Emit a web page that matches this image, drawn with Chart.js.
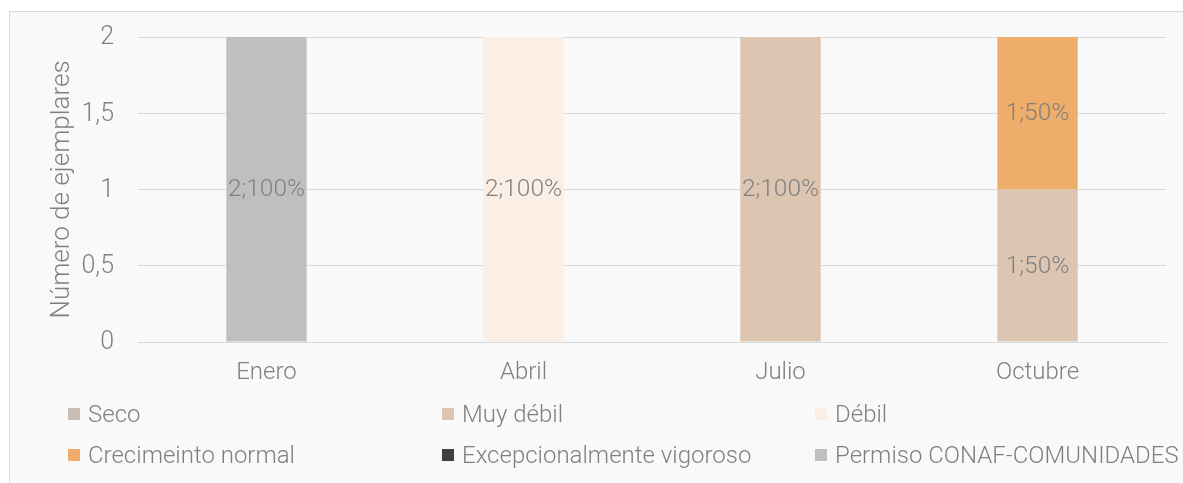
<!DOCTYPE html>
<html>
<head>
<meta charset="utf-8">
<script src="https://cdn.jsdelivr.net/npm/chart.js@4/dist/chart.umd.min.js"></script>
<style>
  html, body { margin: 0; padding: 0; background: #ffffff; width: 1183px; height: 483px; overflow: hidden; }
  #wrap { position: absolute; left: 9px; top: 11px; width: 1174px; height: 472px; background: #f9f9f9; border-top: 1px solid #d9d9d9; border-left: 1px solid #d9d9d9; box-sizing: border-box; }
  #cv { position: absolute; left: 0; top: 0; }
  #legend { position: absolute; left: 0; top: 0; width: 100%; height: 100%; pointer-events: none; font-family: "Roboto Light", Roboto, sans-serif; font-weight: 300; font-size: 24px; color: #7f7f7f; }
  .li { position: absolute; white-space: nowrap; height: 30px; }
  .li span.box { position: absolute; left: 0; top: 9px; width: 12px; height: 12px; }
  .li span.txt { position: absolute; left: 20px; top: 0; line-height: 30px; }
</style>
</head>
<body>
<div id="wrap">
  <canvas id="cv" width="1173" height="471"></canvas>
  <div id="legend"></div>
</div>
<script>
const categories = ["Enero", "Abril", "Julio", "Octubre"];
const seriesNames = ["Seco", "Muy débil", "Débil", "Crecimeinto normal", "Excepcionalmente vigoroso", "Permiso CONAF-COMUNIDADES"];
const seco = [0, 0, 0, 0];
const muyDebil = [0, 0, 2, 1];
const debil = [0, 2, 0, 0];
const crecimientoNormal = [0, 0, 0, 1];
const excepcionalmenteVigoroso = [0, 0, 0, 0];
const permisoConaf = [2, 0, 0, 0];
const yTicks = [0, 0.5, 1, 1.5, 2];
const yTitle = "Número de ejemplares";
const colors = ["#c9bfb5", "#dcc6b2", "#fbeee4", "#efad6b", "#404040", "#bfbfbf"];

const seriesValues = [seco, muyDebil, debil, crecimientoNormal, excepcionalmenteVigoroso, permisoConaf];

const datasets = seriesNames.map((n, i) => ({
  label: n,
  data: seriesValues[i],
  backgroundColor: colors[i],
  borderWidth: 0,
  categoryPercentage: 1,
  barPercentage: 0.313
}));

const FAMILY = "'Roboto Light', Roboto, sans-serif";
const FONT = { family: FAMILY, weight: "300", size: 24 };
const TXT = "#7f7f7f";

const labelPlugin = {
  id: "valueLabels",
  afterDatasetsDraw(chart) {
    const ctx = chart.ctx;
    ctx.save();
    ctx.font = "300 24.5px " + FAMILY;
    ctx.fillStyle = TXT;
    ctx.textAlign = "center";
    ctx.textBaseline = "middle";
    const totals = categories.map((_, j) => chart.data.datasets.reduce((s, d) => s + (d.data[j] || 0), 0));
    chart.data.datasets.forEach((ds, i) => {
      const meta = chart.getDatasetMeta(i);
      meta.data.forEach((bar, j) => {
        const v = ds.data[j];
        if (!v) return;
        const pct = Math.round(v / totals[j] * 100);
        const y = (bar.y + bar.base) / 2;
        ctx.fillText(v + ";" + pct + "%", bar.x, y);
      });
    });
    ctx.restore();
  }
};

const chart = new Chart(document.getElementById("cv"), {
  type: "bar",
  data: { labels: categories, datasets },
  options: {
    responsive: false,
    animation: false,
    devicePixelRatio: 1,
    layout: { padding: { top: 25, right: 17, left: 0, bottom: 0 } },
    plugins: { legend: { display: false }, tooltip: { enabled: false } },
    scales: {
      x: {
        stacked: true,
        grid: { display: false, drawTicks: false },
        border: { display: true, color: "#d9d9d9", width: 1 },
        ticks: { color: TXT, font: FONT, padding: 16, maxRotation: 0 },
        afterFit(s) { s.height = 141; s.paddingLeft = 0; s.paddingRight = 0; }
      },
      y: {
        stacked: true,
        min: 0, max: 2,
        afterBuildTicks(s) { s.ticks = yTicks.map(v => ({ value: v })); },
        grid: { color: "#d9d9d9", lineWidth: 1, drawTicks: false },
        border: { display: false },
        ticks: {
          color: TXT, font: { family: FAMILY, weight: "300", size: 25 }, padding: 24,
          callback: v => String(v).replace(".", ",")
        },
        title: { display: true, text: yTitle, color: TXT, font: { family: FAMILY, weight: "300", size: 26 }, padding: { top: 36, bottom: 0 } },
        afterFit(s) { s.width = 128; s.paddingTop = 0; s.paddingBottom = 0; }
      }
    }
  },
  plugins: [labelPlugin]
});

// Legend built from dataset definitions
const legend = document.getElementById("legend");
const colX = [58, 432, 805];
const rowCY = [402, 443];
chart.data.datasets.forEach((ds, i) => {
  const el = document.createElement("div");
  el.className = "li";
  el.style.left = colX[i % 3] + "px";
  el.style.top = (rowCY[Math.floor(i / 3)] - 15) + "px";
  el.innerHTML = '<span class="box" style="background:' + ds.backgroundColor + '"></span><span class="txt"></span>';
  el.querySelector(".txt").textContent = ds.label;
  legend.appendChild(el);
});
</script>
</body>
</html>
